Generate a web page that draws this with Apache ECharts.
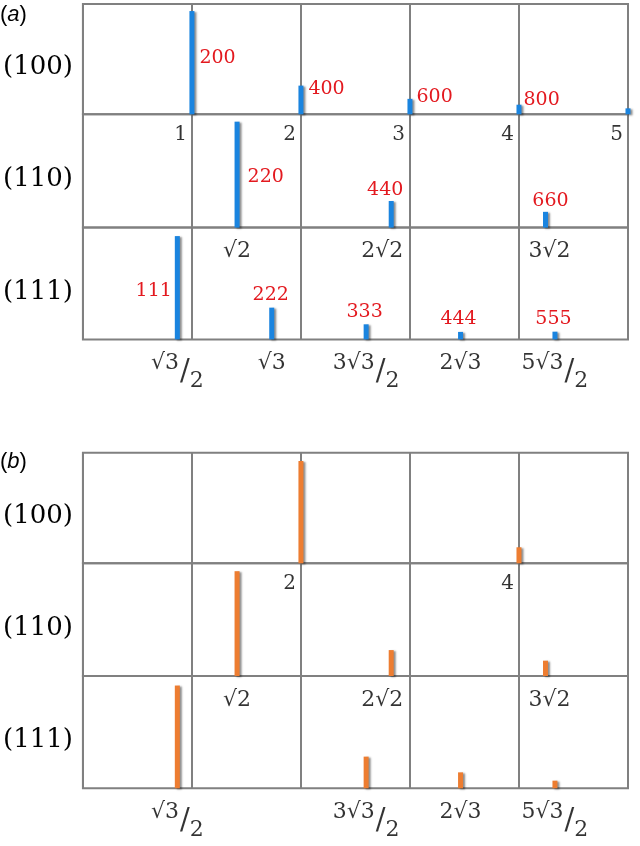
<!DOCTYPE html>
<html>
<head>
<meta charset="utf-8">
<script src="https://cdn.jsdelivr.net/npm/echarts@6/dist/echarts.min.js"></script>
<style>
  html, body { margin: 0; padding: 0; background: #fff; }
  #chart { width: 640px; height: 846px; }
</style>
</head>
<body>
<div id="chart"></div>
<script>
// ---------------- DATA ----------------
const panelNames = ['a', 'b'];
const rowNames = ['(100)', '(110)', '(111)'];

// Panel (a)
const pos100A = [1, 2, 3, 4, 5];
const val100A = [93.6, 26, 14, 8.7, 5.4];
const lab100A = ['200', '400', '600', '800', ''];
const pos110A = [1.414, 2.828, 4.243];
const val110A = [93.5, 23.5, 13.9];
const lab110A = ['220', '440', '660'];
const pos111A = [0.866, 1.732, 2.598, 3.464, 4.330];
const val111A = [92.4, 28.4, 13.5, 6.7, 6.9];
const lab111A = ['111', '222', '333', '444', '555'];

// Panel (b)
const pos100B = [2, 4];
const val100B = [92.5, 14.5];
const pos110B = [1.414, 2.828, 4.243];
const val110B = [93, 23, 13.6];
const pos111B = [0.866, 2.598, 3.464, 4.330];
const val111B = [91.5, 28.2, 14.2, 6.8];

// Tick labels
const tick100A = ['1', '2', '3', '4', '5'];
const tick110A = ['√2', '2√2', '3√2'];
const tick111A = ['√3/2', '√3', '3√3/2', '2√3', '5√3/2'];
const tick100B = ['2', '4'];
const tick110B = ['√2', '2√2', '3√2'];
const tick111B = ['√3/2', '3√3/2', '2√3', '5√3/2'];

// ---------------- LAYOUT / STYLE ----------------
const GRID_LEFT = 81, GRID_RIGHT = 12;
const ROWS = [[4, 110.3], [114.3, 113.3], [227.6, 111.8], [452.7, 110.6], [563.3, 112.7], [676, 112.3]];
const LINE = '#808080';
const SERIF = 'DejaVu Serif';
const RED = '#e3191f';
const INK = '#000';
const COLORS = ['#1a84df', '#ed7d31'];

const redPlace = {
  '200': { position: 'right', distance: 5, offset: [0, -5] },
  '220': { position: 'right', distance: 8, offset: [0, 2] },
  '111': { position: 'left', distance: 3, offset: [0, 3] },
  '400': { position: ['100%', 0], align: 'left', verticalAlign: 'middle', offset: [5, 3] },
  '600': { position: ['100%', 0], align: 'left', verticalAlign: 'middle', offset: [4, -2] },
  '800': { position: ['100%', 0], align: 'left', verticalAlign: 'middle', offset: [2, -5] },
  '660': { position: 'top', distance: 1, offset: [5, 0] },
  '440': { position: 'top', distance: 1, offset: [-6, 0] },
  '222': { position: 'top', distance: 3, offset: [-1, 0] },
  '333': { position: 'top', distance: 3, offset: [-1.5, 0] },
  '444': { position: 'top', distance: 3, offset: [-2, 0] },
  '555': { position: 'top', distance: 3, offset: [-1.5, 0] }
};
// horizontal nudges of tick labels (to keep them off the grid lines)
const tickNudge = { '2√2': -9, '3√2': 4 };

// ---------------- BUILD ----------------
const rows = [
  { pos: pos100A, val: val100A, lab: lab100A, ticks: tick100A, tpos: pos100A, kind: 'int' },
  { pos: pos110A, val: val110A, lab: lab110A, ticks: tick110A, tpos: pos110A, kind: 'rad' },
  { pos: pos111A, val: val111A, lab: lab111A, ticks: tick111A, tpos: pos111A, kind: 'rad' },
  { pos: pos100B, val: val100B, lab: null, ticks: tick100B, tpos: pos100B, kind: 'int' },
  { pos: pos110B, val: val110B, lab: null, ticks: tick110B, tpos: pos110B, kind: 'rad' },
  { pos: pos111B, val: val111B, lab: null, ticks: tick111B, tpos: pos111B, kind: 'rad' }
];

const grids = [], xAxes = [], yAxes = [], series = [];

rows.forEach((r, i) => {
  const panel = Math.floor(i / 3);
  grids.push({
    left: GRID_LEFT, right: GRID_RIGHT, top: ROWS[i][0], height: ROWS[i][1],
    show: true, borderColor: LINE, borderWidth: 2, backgroundColor: 'transparent'
  });
  xAxes.push({
    type: 'value', gridIndex: i, min: 0, max: 5, interval: 1,
    axisLine: { show: false }, axisTick: { show: false }, axisLabel: { show: false },
    splitLine: { show: true, lineStyle: { color: LINE, width: 2 } }
  });
  yAxes.push({
    type: 'value', gridIndex: i, min: 0, max: 100,
    axisLine: { show: false }, axisTick: { show: false }, axisLabel: { show: false },
    splitLine: { show: false },
    name: rowNames[i % 3], nameLocation: 'middle', nameRotate: 0, nameGap: 10,
    nameTextStyle: { fontFamily: SERIF, fontSize: 26, color: INK, align: 'right',
      verticalAlign: 'top', lineHeight: 17 }
  });

  // bars
  series.push({
    type: 'bar', xAxisIndex: i, yAxisIndex: i, barWidth: 5, clip: false, silent: true,
    itemStyle: { color: COLORS[panel], shadowColor: 'rgba(0,0,0,0.45)', shadowBlur: 2,
      shadowOffsetX: 2, shadowOffsetY: 1 },
    data: r.pos.map((p, k) => {
      const d = { value: [p, r.val[k]] };
      if (r.lab && r.lab[k]) {
        const pl = redPlace[r.lab[k]] || { position: 'top' };
        d.label = Object.assign({ show: true, formatter: r.lab[k], color: RED,
          fontFamily: SERIF, fontSize: 19 }, pl);
      }
      return d;
    })
  });

  // tick labels (positioned through the axis scale)
  series.push({
    type: 'scatter', xAxisIndex: i, yAxisIndex: i, symbolSize: 0.01, clip: false, silent: true,
    itemStyle: { color: 'transparent' },
    data: r.tpos.map((p, k) => ({ value: [p, 0], name: r.ticks[k] })),
    label: r.kind === 'int' ? {
      show: true, position: 'bottom', distance: 10, align: 'right', offset: [-5, 0],
      formatter: p => p.name, fontFamily: SERIF, fontSize: 20, color: INK, lineHeight: 20
    } : {
      show: true, position: 'bottom', distance: 13,
      formatter: p => {
        const t = p.name;
        if (t.indexOf('/') >= 0) {
          const parts = t.split('/');
          return '{r|' + parts[0] + '}{s|/}{d|' + parts[1] + '}';
        }
        return '{n|' + t + '}';
      },
      rich: {
        n: { fontFamily: SERIF, fontSize: 22, lineHeight: 22, color: INK },
        r: { fontFamily: SERIF, fontSize: 22, lineHeight: 22, color: INK, padding: [0, 0, 18, 0] },
        s: { fontFamily: SERIF, fontSize: 29, lineHeight: 40, color: INK, padding: [0, 0, 0, 1] },
        d: { fontFamily: SERIF, fontSize: 22, lineHeight: 22, color: INK, padding: [18, 0, 0, 0] }
      }
    }
  });
  // per-item nudges
  series[series.length - 1].data.forEach(d => {
    if (tickNudge[d.name] !== undefined) d.label = { offset: [tickNudge[d.name], 0] };
  });
});

const titles = panelNames.map((n, i) => ({
  text: '{p|(}{i|' + n + '}{p|)}', left: 0, top: i === 0 ? 4 : 451, padding: 0,
  textStyle: { fontWeight: 'normal', rich: {
    p: { fontFamily: 'Liberation Sans', fontSize: 22, fontWeight: 'normal', color: INK },
    i: { fontFamily: 'Liberation Sans', fontSize: 22, fontWeight: 'normal', fontStyle: 'italic', color: INK }
  } }
}));

const chart = echarts.init(document.getElementById('chart'), null, { renderer: 'canvas' });
chart.setOption({
  animation: false,
  backgroundColor: '#fff',
  title: titles,
  grid: grids, xAxis: xAxes, yAxis: yAxes, series: series
});
</script>
</body>
</html>
